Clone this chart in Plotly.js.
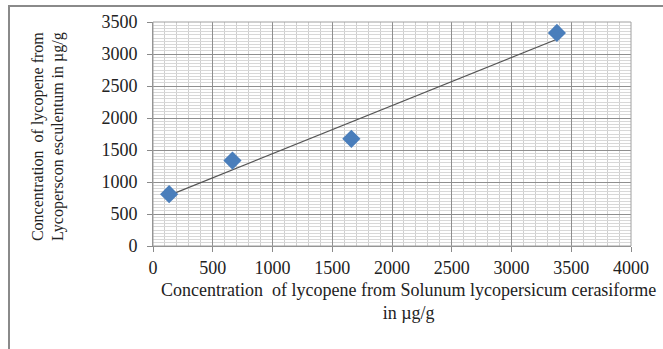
<!DOCTYPE html>
<html>
<head>
<meta charset="utf-8">
<script src="https://cdn.plot.ly/plotly-3.0.1.min.js"></script>
<style>
  html, body { margin: 0; padding: 0; background: #fff; overflow: hidden; }
  #frame { position: absolute; left: 8px; top: 5px; width: 700px; height: 400px; border: 2px solid #8a8a8a; box-sizing: border-box; }
  #chart { position: absolute; left: 0; top: 0; width: 663px; height: 349px; }
</style>
</head>
<body>
<div id="frame"></div>
<div id="chart"></div>
<script>
// Data
const xValues = [135, 665, 1660, 3380];   // Solunum lycopersicum cerasiforme (µg/g)
const yValues = [810, 1335, 1675, 3330];  // Lycoperscon esculentum (µg/g)
const xTickVals = [0, 500, 1000, 1500, 2000, 2500, 3000, 3500, 4000];
const yTickVals = [0, 500, 1000, 1500, 2000, 2500, 3000, 3500];

// Linear trendline (least squares) spanning the data
const n = xValues.length;
const mx = xValues.reduce((a, b) => a + b, 0) / n;
const my = yValues.reduce((a, b) => a + b, 0) / n;
let sxy = 0, sxx = 0;
for (let i = 0; i < n; i++) { sxy += (xValues[i] - mx) * (yValues[i] - my); sxx += (xValues[i] - mx) ** 2; }
const slope = sxy / sxx, intercept = my - slope * mx;
const xMin = Math.min(...xValues), xMax = Math.max(...xValues);
const trendX = [xMin, xMax];
const trendY = trendX.map(v => intercept + slope * v);

const serif = 'Liberation Serif, Times New Roman, serif';
const font = { family: serif, size: 18, color: '#222' };
const yTitleFont = { family: serif, size: 16, color: '#222' };
const tickFont = { family: serif, size: 18, color: '#222' };

const traces = [
  { x: trendX, y: trendY, type: 'scatter', mode: 'lines', line: { color: '#555', width: 1.2 }, hoverinfo: 'skip' },
  { x: xValues, y: yValues, type: 'scatter', mode: 'markers',
    marker: { symbol: 'diamond', size: 14, color: '#4a7ebb', line: { width: 0 } } }
];

const layout = {
  width: 663, height: 349,
  margin: { l: 153, r: 32, t: 22, b: 103 },
  paper_bgcolor: 'rgba(0,0,0,0)', plot_bgcolor: '#fff',
  showlegend: false,
  font: font,
  xaxis: {
    range: [0, 4000], tickvals: xTickVals, ticktext: xTickVals.map(String),
    showgrid: true, gridcolor: '#8f8f8f', gridwidth: 1,
    minor: { dtick: 100, showgrid: true, gridcolor: '#cfcfcf', gridwidth: 1 },
    showline: true, linecolor: '#8a8a8a', linewidth: 1,
    ticks: 'outside', ticklen: 5, tickcolor: '#8a8a8a',
    zeroline: false, tickfont: tickFont, fixedrange: true
  },
  yaxis: {
    range: [0, 3500], tickvals: yTickVals, ticktext: yTickVals.map(String),
    showgrid: true, gridcolor: '#8f8f8f', gridwidth: 1,
    minor: { dtick: 50, showgrid: true, gridcolor: '#d8d8d8', gridwidth: 1 },
    showline: true, linecolor: '#8a8a8a', linewidth: 1,
    ticks: 'outside', ticklen: 5, tickcolor: '#8a8a8a',
    ticklabelstandoff: 6,
    zeroline: false, tickfont: tickFont, fixedrange: true
  },
  shapes: [
    { type: 'rect', xref: 'paper', yref: 'paper', x0: 0, x1: 1, y0: 0, y1: 1, line: { color: '#a0a0a0', width: 1 } }
  ],
  annotations: [
    { text: 'Concentration  of lycopene from Solunum lycopersicum cerasiforme<br>in µg/g',
      xref: 'paper', yref: 'paper', x: 0.534, xanchor: 'center',
      y: -0.145, yanchor: 'top', showarrow: false, font: font, align: 'center' },
    { text: 'Concentration  of lycopene from<br>Lycoperscon esculentum in µg/g',
      xref: 'paper', yref: 'paper', x: -0.22, xanchor: 'center',
      y: 0.49, yanchor: 'middle', textangle: -90, showarrow: false, font: yTitleFont, align: 'center' }
  ]
};

Plotly.newPlot('chart', traces, layout, { displayModeBar: false, staticPlot: true });
</script>
</body>
</html>
